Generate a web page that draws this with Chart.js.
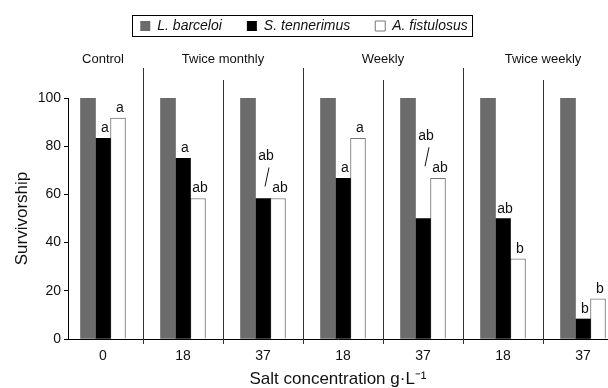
<!DOCTYPE html>
<html>
<head>
<meta charset="utf-8">
<script src="https://cdn.jsdelivr.net/npm/chart.js@4"></script>
<style>
  html, body { margin: 0; padding: 0; background: #fff; }
  #wrap { width: 608px; height: 388px; }
</style>
</head>
<body>
<div id="wrap"><canvas id="myChart" width="608" height="388"></canvas></div>
<script>
var ctx = document.getElementById('myChart').getContext('2d');

// salt concentration under each bar group, and the watering regime it belongs to
const tickLabels = ['0', '18', '37', '18', '37', '18', '37'];
const groups = ['Control', 'Twice monthly', 'Twice monthly', 'Weekly', 'Weekly', 'Twice weekly', 'Twice weekly'];

// survivorship (%)
const lBarceloi = [100, 100, 100, 100, 100, 100, 100];
const sTennerimus = [83.3, 75, 58.3, 66.7, 50, 50, 8.3];
const aFistulosus = [91.7, 58.3, 58.3, 83.3, 66.7, 33.3, 16.7];

// significance letters
const sLetters = ['a', 'a', 'ab', 'a', 'ab', 'ab', 'b'];
const aLetters = ['a', 'ab', 'ab', 'a', 'ab', 'b', 'b'];
// groups where both letters are stacked over the white bar with a slash
const stackedLetters = [2, 4];

const FONT = 'Arial, "Liberation Sans", sans-serif';

const toPoints = (arr) => arr.map((y, i) => ({ x: i, y: y }));

// make room above the plot for the regime labels
const legendSpace = {
  id: 'legendSpace',
  beforeInit(chart) {
    const fit = chart.legend.fit;
    chart.legend.fit = function () {
      fit.bind(chart.legend)();
      this.height = 104;
    };
  }
};

const extras = {
  id: 'extras',
  afterDraw(chart) {
    const c = chart.ctx;
    const x = chart.scales.x;
    const area = chart.chartArea;

    // box round the legend
    const hb = chart.legend.legendHitBoxes;
    if (hb && hb.length) {
      const l = Math.min(...hb.map(h => h.left)) - 8;
      const r = Math.max(...hb.map(h => h.left + h.width)) + 5;
      const t = Math.min(...hb.map(h => h.top)) - 4;
      const b = Math.max(...hb.map(h => h.top + h.height)) + 3;
      c.save();
      c.strokeStyle = '#000';
      c.lineWidth = 1;
      c.strokeRect(Math.round(l) + 0.5, Math.round(t) + 0.5, Math.round(r - l), Math.round(b - t));
      c.restore();
    }

    // separators between categories, longer where the regime changes
    c.save();
    c.strokeStyle = '#333';
    c.lineWidth = 1;
    for (let i = 1; i < tickLabels.length; i++) {
      const px = Math.round(x.getPixelForValue(i - 0.5)) + 0.5;
      const major = groups[i] !== groups[i - 1];
      c.beginPath();
      c.moveTo(px, major ? area.top - 30 : area.top - 18);
      c.lineTo(px, area.bottom + 5);
      c.stroke();
    }
    c.restore();

    // regime labels
    c.save();
    c.fillStyle = '#111';
    c.font = '13px ' + FONT;
    c.textAlign = 'center';
    c.textBaseline = 'middle';
    let start = 0;
    for (let i = 1; i <= groups.length; i++) {
      if (i === groups.length || groups[i] !== groups[start]) {
        const mid = (start + i - 1) / 2;
        c.fillText(groups[start], x.getPixelForValue(mid), area.top - 39);
        start = i;
      }
    }
    c.restore();

    // letters above bars
    const metaS = chart.getDatasetMeta(1).data;
    const metaA = chart.getDatasetMeta(2).data;
    c.save();
    c.fillStyle = '#111';
    c.strokeStyle = '#111';
    c.lineWidth = 1;
    c.font = '14px ' + FONT;
    c.textAlign = 'center';
    c.textBaseline = 'alphabetic';
    for (let i = 0; i < tickLabels.length; i++) {
      const bs = metaS[i], ba = metaA[i];
      const lowA = ba.y - 6;
      c.fillText(aLetters[i], ba.x + 2, lowA);
      if (stackedLetters.includes(i)) {
        const up = lowA - 32;
        c.fillText(sLetters[i], bs.x + 3, up);
        c.beginPath();
        c.moveTo(bs.x + 2, lowA - 6);
        c.lineTo(bs.x + 6, up + 7);
        c.stroke();
      } else {
        c.fillText(sLetters[i], bs.x + 2, bs.y - 6);
      }
    }
    c.restore();
  }
};

config = {
  type: 'bar',
  data: {
    datasets: [
      {
        label: 'L. barceloi',
        data: toPoints(lBarceloi),
        backgroundColor: '#6b6b6b',
        borderColor: '#5a5a5a',
        borderWidth: 0,
      },
      {
        label: 'S. tennerimus',
        data: toPoints(sTennerimus),
        backgroundColor: '#000',
        borderColor: '#000',
        borderWidth: 0,
      },
      {
        label: 'A. fistulosus',
        data: toPoints(aFistulosus),
        backgroundColor: '#fff',
        borderColor: '#777',
        borderWidth: 1,
      },
    ],
  },
  options: {
    responsive: false,
    animation: false,
    barThickness: 15,
    layout: { padding: { top: -6, left: 0, right: 0, bottom: 0 } },
    plugins: {
      tooltip: { enabled: false },
      legend: {
        position: 'top',
        labels: {
          boxWidth: 10,
          boxHeight: 10,
          padding: 25,
          color: '#111',
          font: { family: FONT, size: 14, style: 'italic' }
        }
      }
    },
    scales: {
      x: {
        type: 'linear',
        min: -0.4375,
        max: 6.3125,
        offset: false,
        afterFit(scale) { scale.height = 49; },
        afterBuildTicks(scale) {
          scale.ticks = tickLabels.map((_, i) => ({ value: i }));
        },
        grid: { display: false, drawTicks: false },
        border: { display: true, color: '#000', width: 1 },
        ticks: {
          autoSkip: false,
          maxRotation: 0,
          padding: 9,
          color: '#111',
          font: { family: FONT, size: 14 },
          callback: (v) => tickLabels[Math.round(v)]
        },
        title: {
          display: true,
          text: 'Salt concentration g\u00b7L\u207b\u00b9',
          color: '#111',
          font: { family: FONT, size: 17, lineHeight: 1 },
          padding: { top: 0, bottom: 0 }
        }
      },
      y: {
        min: 0,
        max: 100,
        afterFit(scale) { scale.width = 68; },
        grid: { drawOnChartArea: false, tickLength: 4, color: '#000' },
        border: { display: true, color: '#000', width: 1 },
        ticks: {
          stepSize: 20,
          padding: 3,
          color: '#111',
          font: { family: FONT, size: 14 }
        },
        title: {
          display: true,
          text: 'Survivorship',
          color: '#111',
          font: { family: FONT, size: 17, lineHeight: 1 },
          padding: { top: 14, bottom: 0 }
        }
      }
    }
  },
  plugins: [legendSpace, extras]
};

const chart = new Chart(ctx, config);
</script>
</body>
</html>
